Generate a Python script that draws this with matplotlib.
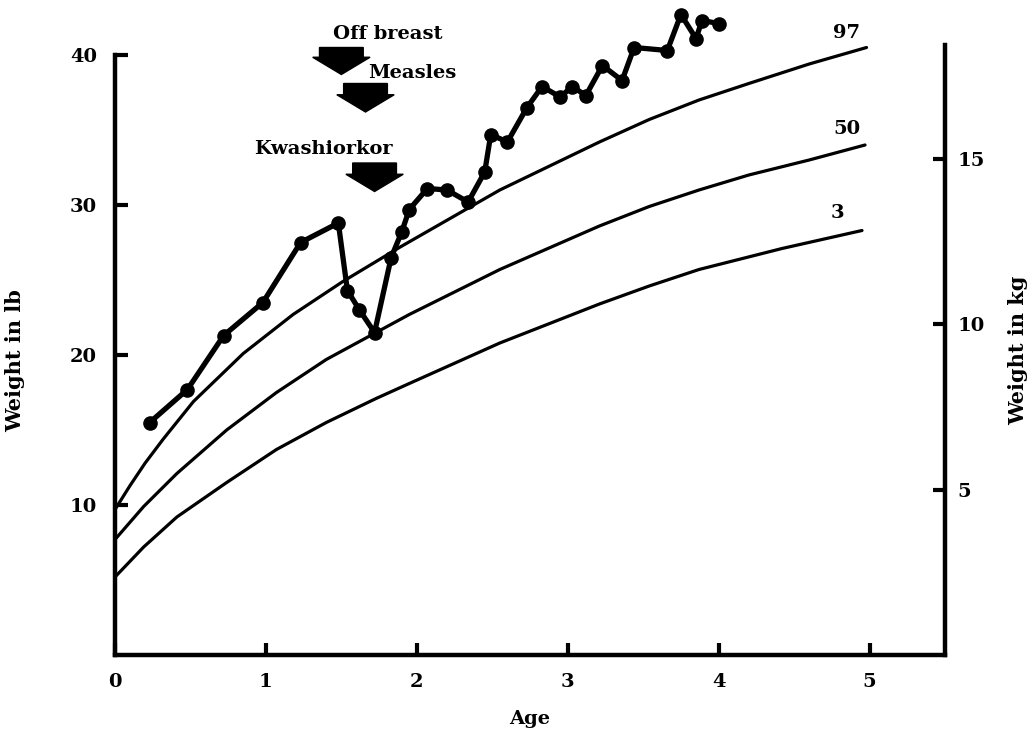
import matplotlib
matplotlib.use("Agg")
import matplotlib.pyplot as plt
from matplotlib.patches import FancyArrow

plt.rcParams['font.family'] = ['DejaVu Serif']
plt.rcParams['font.weight'] = 'bold'

# ---- data ----
p97_age = [0.0, 0.1, 0.2, 0.32, 0.52, 0.85, 1.18, 1.51, 1.89, 2.55, 3.21, 3.54, 3.87, 4.2, 4.6, 4.98]
p97_lb = [9.7, 11.3, 12.8, 14.4, 16.9, 20.1, 22.7, 24.9, 27.2, 31.0, 34.2, 35.7, 37.0, 38.1, 39.4, 40.5]

p50_age = [0.0, 0.19, 0.41, 0.74, 1.07, 1.4, 1.73, 1.95, 2.55, 3.21, 3.54, 3.87, 4.2, 4.6, 4.97]
p50_lb = [7.7, 9.9, 12.1, 15.0, 17.5, 19.7, 21.5, 22.7, 25.7, 28.6, 29.9, 31.0, 32.0, 33.0, 34.0]

p3_age = [0.0, 0.19, 0.41, 0.74, 1.07, 1.4, 1.73, 1.95, 2.55, 3.21, 3.54, 3.87, 4.42, 4.95]
p3_lb = [5.2, 7.2, 9.2, 11.5, 13.7, 15.5, 17.1, 18.1, 20.8, 23.4, 24.6, 25.7, 27.1, 28.3]

child_age = [0.23, 0.48, 0.72, 0.98, 1.23, 1.48, 1.54, 1.62, 1.72, 1.83, 1.9, 1.95,
             2.07, 2.2, 2.34, 2.45, 2.49, 2.6, 2.73, 2.83, 2.95, 3.03, 3.12, 3.23,
             3.36, 3.44, 3.66, 3.75, 3.85, 3.89, 4.0]
child_lb = [15.5, 17.7, 21.3, 23.5, 27.5, 28.8, 24.3, 23.0, 21.5, 26.5, 28.2, 29.7,
            31.1, 31.0, 30.2, 32.2, 34.7, 34.2, 36.5, 37.9, 37.2, 37.9, 37.3, 39.3,
            38.3, 40.5, 40.3, 42.7, 41.1, 42.3, 42.1]

percentile_labels = ["97", "50", "3"]
percentile_label_pos = [(4.85, 41.5), (4.85, 35.1), (4.79, 29.5)]

events = ["Off breast", "Measles", "Kwashiorkor"]
event_text_pos = [(1.81, 41.4), (1.97, 38.8), (1.38, 33.7)]
event_arrow = [(1.50, 40.5, 38.7), (1.66, 38.1, 36.2), (1.72, 32.8, 30.9)]  # x, top, tip

lb_ticks = [10, 20, 30, 40]
kg_ticks = [5, 10, 15]
age_ticks = [0, 1, 2, 3, 4, 5]
LB_PER_KG = 2.2046

# ---- figure ----
fig = plt.figure(figsize=(10.27, 7.34), dpi=100)
ax = fig.add_axes([115 / 1027, 79 / 734, 830 / 1027, 652.5 / 734])
ax.set_xlim(0, 5.5)
ax.set_ylim(0, 43.5)

for a, w in [(p97_age, p97_lb), (p50_age, p50_lb), (p3_age, p3_lb)]:
    ax.plot(a, w, color='black', lw=2.3, solid_capstyle='round', solid_joinstyle='round')

ax.plot(child_age, child_lb, color='black', lw=3.8, marker='o', markersize=9.5,
        solid_joinstyle='round', clip_on=False, zorder=5)

for lab, (x, y) in zip(percentile_labels, percentile_label_pos):
    ax.text(x, y, lab, ha='center', va='center', fontsize=14, fontweight='bold')

for lab, (x, y) in zip(events, event_text_pos):
    ax.text(x, y, lab, ha='center', va='center', fontsize=14, fontweight='bold')

for (x, top, tip) in event_arrow:
    arr = FancyArrow(x, top, 0, tip - top, width=0.29, head_width=0.38,
                     head_length=1.15, length_includes_head=True,
                     color='black', clip_on=False)
    ax.add_patch(arr)

# spines
ax.spines['top'].set_visible(False)
ax.spines['right'].set_visible(False)
for s in ['left', 'bottom']:
    ax.spines[s].set_linewidth(3.2)
ax.spines['left'].set_bounds(0, 40)

ax.set_xticks(age_ticks)
ax.set_xticklabels([str(t) for t in age_ticks])
ax.set_yticks(lb_ticks)
ax.set_yticklabels([str(t) for t in lb_ticks])
ax.tick_params(direction='in', length=9, width=3, labelsize=14, pad=13)
for lab in ax.get_xticklabels() + ax.get_yticklabels():
    lab.set_fontweight('bold')

ax.set_xlabel("Age", fontsize=14, fontweight='bold')
ax.xaxis.set_label_coords(0.5, -0.085)
ax.set_ylabel("Weight in lb", fontsize=15, fontweight='bold')
ax.yaxis.set_label_coords(-0.108, 0.452)

ax2 = ax.twinx()
ax2.set_ylim(0, 43.5 / LB_PER_KG)
for s in ['left', 'top', 'bottom']:
    ax2.spines[s].set_visible(False)
ax2.spines['right'].set_linewidth(3.2)
ax2.spines['right'].set_bounds(0, 40.7 / LB_PER_KG)
ax2.set_yticks(kg_ticks)
ax2.set_yticklabels([str(t) for t in kg_ticks])
ax2.tick_params(direction='in', length=9, width=3, labelsize=14, pad=9)
for lab in ax2.get_yticklabels():
    lab.set_fontweight('bold')
ax2.set_ylabel("Weight in kg", fontsize=15, fontweight='bold')
ax2.yaxis.set_label_coords(1.076, 0.467)

fig.savefig("out.png", dpi=100)
